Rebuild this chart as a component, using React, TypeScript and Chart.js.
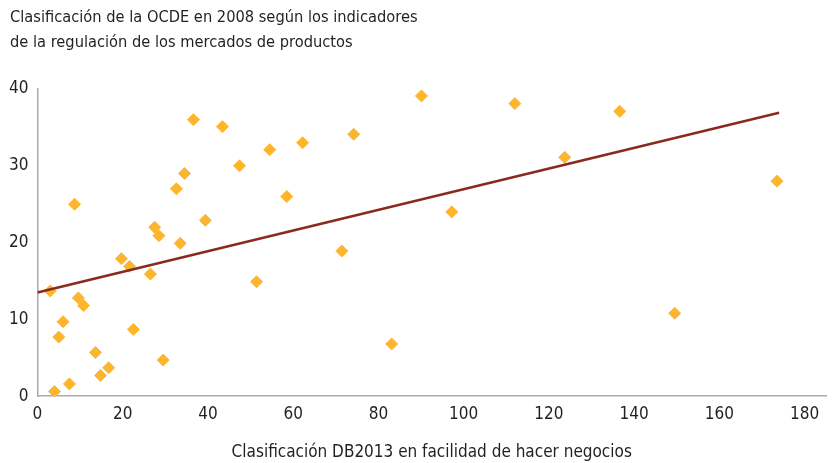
import React, { useEffect, useRef } from "react";
import { Chart, registerables } from "chart.js";

Chart.register(...registerables);

const titleLines = [
  "Clasificación de la OCDE en 2008 según los indicadores",
  "de la regulación de los mercados de productos",
];
const xAxisTitle = "Clasificación DB2013 en facilidad de hacer negocios";

const dbRank = [
  3, 4, 5, 6, 7.5, 8.7, 9.6, 10.8, 13.6, 14.8, 16.7, 19.7, 21.6, 22.5, 26.5,
  27.5, 28.5, 29.5, 32.6, 33.5, 34.5, 36.6, 39.4, 43.4, 47.4, 51.4, 54.5, 58.5,
  62.2, 71.4, 74.2, 83.1, 90.1, 97.2, 112, 123.7, 136.6, 149.5, 173.5,
];
const pmrRank = [
  13.7, 0.6, 7.7, 9.7, 1.6, 25, 12.8, 11.8, 5.7, 2.7, 3.7, 17.9, 16.9, 8.7,
  15.9, 22, 20.9, 4.7, 27, 19.9, 29, 36, 22.9, 35.1, 30, 14.9, 32.1, 26, 33,
  18.9, 34.1, 6.8, 39.1, 24, 38.1, 31.1, 37.1, 10.8, 28,
];

const trendX = [0, 174];
const trendY = [13.5, 36.9];

const xTicks = [0, 20, 40, 60, 80, 100, 120, 140, 160, 180];
const yTicks = [0, 10, 20, 30, 40];

const FONT = "'Liberation Sans Narrow', 'DejaVu Sans Condensed', 'Open Sans', sans-serif";

const titlePlugin = {
  id: "leftTitle",
  afterDraw(chart: any) {
    const ctx = chart.ctx;
    ctx.save();
    ctx.font = `16.3px ${FONT}`;
    ctx.fillStyle = "#231f20";
    ctx.textAlign = "left";
    ctx.textBaseline = "middle";
    titleLines.forEach((line, i) => {
      ctx.fillText(line, 10, 18 + i * 25);
    });
    ctx.restore();
  },
};

export default function App() {
  const ref = useRef<HTMLCanvasElement | null>(null);

  useEffect(() => {
    document.body.style.margin = "0";
    const canvas = ref.current;
    if (!canvas) return;
    const chart = new Chart(canvas, {
      type: "scatter",
      data: {
        datasets: [
          {
            type: "line",
            data: trendX.map((x, i) => ({ x, y: trendY[i] })),
            borderColor: "#8a2a1c",
            borderWidth: 2.5,
            pointRadius: 0,
            fill: false,
            order: 0,
          },
          {
            data: dbRank.map((x, i) => ({ x, y: pmrRank[i] })),
            backgroundColor: "#fdb52e",
            borderColor: "#fdb52e",
            borderWidth: 1,
            pointStyle: "rectRot",
            pointRadius: 6,
            order: 1,
          },
        ],
      },
      plugins: [titlePlugin],
      options: {
        animation: false,
        responsive: false,
        layout: { padding: { left: 0, right: 0, top: 89, bottom: 0 } },
        plugins: {
          legend: { display: false },
          tooltip: { enabled: false },
          title: { display: false },
        },
        scales: {
          x: {
            type: "linear",
            min: 0,
            max: 185,
            afterBuildTicks: (scale: any) => {
              scale.ticks = xTicks.map((v) => ({ value: v }));
            },
            grid: { display: false, drawTicks: false },
            border: { display: true, color: "#ababab", width: 1.5 },
            ticks: {
              color: "#231f20",
              padding: 8,
              font: { family: FONT, size: 17 },
            },
            title: {
              display: true,
              text: xAxisTitle,
              color: "#231f20",
              font: { family: FONT, size: 17 },
              padding: { top: 10, bottom: 0 },
            },
          },
          y: {
            type: "linear",
            min: 0,
            max: 40,
            afterBuildTicks: (scale: any) => {
              scale.ticks = yTicks.map((v) => ({ value: v }));
            },
            grid: { display: false, drawTicks: false },
            border: { display: true, color: "#ababab", width: 1.5 },
            ticks: {
              color: "#231f20",
              padding: 9,
              font: { family: FONT, size: 17 },
            },
          },
        },
      },
    });
    return () => chart.destroy();
  }, []);

  return (
    <div style={{ width: 833, height: 463 }}>
      <canvas ref={ref} width={833} height={463} style={{ display: "block" }} />
    </div>
  );
}
